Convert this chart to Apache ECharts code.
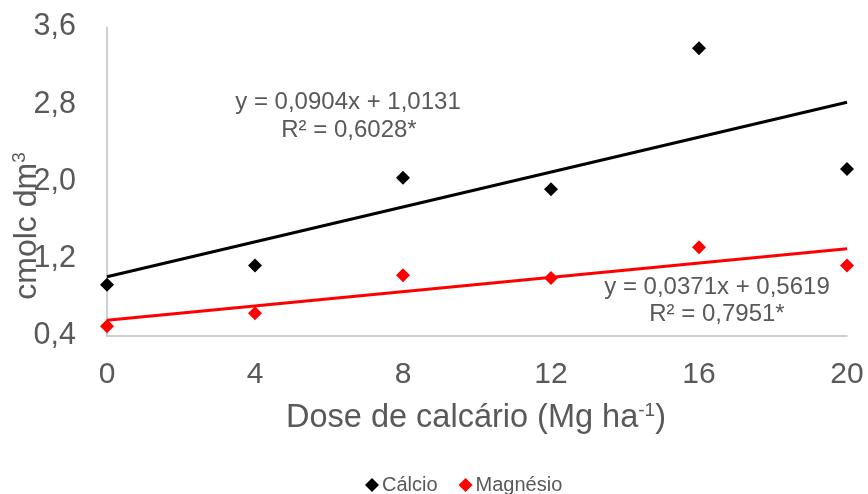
<!DOCTYPE html>
<html>
<head>
<meta charset="utf-8">
<script src="https://cdn.jsdelivr.net/npm/echarts@6/dist/echarts.min.js"></script>
<style>
html,body{margin:0;padding:0;background:#fff;}
#chart{width:868px;height:494px;}
</style>
</head>
<body>
<div id="chart"></div>
<script>
const doses = [0, 4, 8, 12, 16, 20];
const calcio = [0.93, 1.13, 2.04, 1.92, 3.38, 2.13];
const magnesio = [0.50, 0.635, 1.03, 1.00, 1.32, 1.13];
const trendX = [0, 20];
const calcioTrend = [1.0131, 2.8211];
const magnesioTrend = [0.5619, 1.3039];
const yTickLabels = [0.4, 1.2, 2.0, 2.8, 3.6];
const xTickLabels = [0, 4, 8, 12, 16, 20];
const seriesNames = ['Cálcio', 'Magnésio'];

const FONT = '"Liberation Sans", Arial, sans-serif';
const GREY = '#595959';

const pairs = (xs, ys) => xs.map((x, i) => [x, ys[i]]);
const fmt = v => v.toFixed(1).replace('.', ',');

const chart = echarts.init(document.getElementById('chart'), null, {renderer: 'canvas'});
chart.setOption({
  animation: false,
  backgroundColor: '#fff',
  textStyle: {fontFamily: FONT},
  grid: {left: 107, right: 21, top: 27, bottom: 158, containLabel: false},
  xAxis: {
    type: 'value', min: 0, max: 20, interval: 4,
    axisLine: {show: true, lineStyle: {color: '#bfbfbf', width: 1.5}},
    axisTick: {show: false},
    splitLine: {show: false},
    axisLabel: {
      color: GREY, fontSize: 30, fontFamily: FONT, margin: 24,
      formatter: v => xTickLabels.includes(v) ? String(v) : ''
    }
  },
  yAxis: {
    type: 'value', min: 0.4, max: 3.6, interval: 0.4,
    axisLine: {show: true, lineStyle: {color: '#bfbfbf', width: 1.5}},
    axisTick: {show: false},
    splitLine: {show: false},
    axisLabel: {
      color: GREY, fontSize: 30.5, fontFamily: FONT, margin: 31,
      formatter: v => yTickLabels.some(t => Math.abs(t - v) < 1e-6) ? fmt(v) : ''
    }
  },
  legend: {
    data: seriesNames.map(n => ({name: n, icon: 'diamond'})),
    left: 360, top: 470,
    itemWidth: 14, itemHeight: 14, itemGap: 21,
    textStyle: {color: GREY, fontSize: 20, fontFamily: FONT, padding: [0, 0, 0, -2]}
  },
  series: [
    {
      name: 'Cálcio trend', type: 'line', data: pairs(trendX, calcioTrend),
      symbol: 'none', lineStyle: {color: '#000', width: 3}, z: 2, silent: true
    },
    {
      name: 'Magnésio trend', type: 'line', data: pairs(trendX, magnesioTrend),
      symbol: 'none', lineStyle: {color: '#ff0000', width: 3}, z: 2, silent: true
    },
    {
      name: seriesNames[0], type: 'scatter', data: pairs(doses, calcio),
      symbol: 'diamond', symbolSize: 14, itemStyle: {color: '#000', opacity: 1}, clip: false, z: 3
    },
    {
      name: seriesNames[1], type: 'scatter', data: pairs(doses, magnesio),
      symbol: 'diamond', symbolSize: 14, itemStyle: {color: '#ff0000', opacity: 1}, clip: false, z: 3
    }
  ],
  graphic: [
    {type: 'text', x: 348, y: 102, style: {text: 'y = 0,0904x + 1,0131', fill: GREY, font: '24px ' + FONT, textAlign: 'center', textVerticalAlign: 'middle'}},
    {type: 'text', x: 349, y: 130, style: {text: 'R² = 0,6028*', fill: GREY, font: '24px ' + FONT, textAlign: 'center', textVerticalAlign: 'middle'}},
    {type: 'text', x: 717, y: 287, style: {text: 'y = 0,0371x + 0,5619', fill: GREY, font: '24px ' + FONT, textAlign: 'center', textVerticalAlign: 'middle'}},
    {type: 'text', x: 717, y: 314, style: {text: 'R² = 0,7951*', fill: GREY, font: '24px ' + FONT, textAlign: 'center', textVerticalAlign: 'middle'}},
    {type: 'text', x: 476, y: 418, style: {
      text: 'Dose de calcário (Mg ha{sup|-1})', fill: GREY, font: '32.5px ' + FONT,
      textAlign: 'center', textVerticalAlign: 'middle',
      rich: {sup: {fontSize: 19, fontFamily: FONT, fill: GREY, padding: [0, 0, 14, 0]}}
    }},
    {type: 'text', x: 27, y: 226, rotation: Math.PI / 2, style: {
      text: 'cmolc dm{sup|3}', fill: GREY, font: '32px ' + FONT,
      textAlign: 'center', textVerticalAlign: 'middle',
      rich: {sup: {fontSize: 19, fontFamily: FONT, fill: GREY, padding: [0, 0, 14, 0]}}
    }}
  ]
});
</script>
</body>
</html>
